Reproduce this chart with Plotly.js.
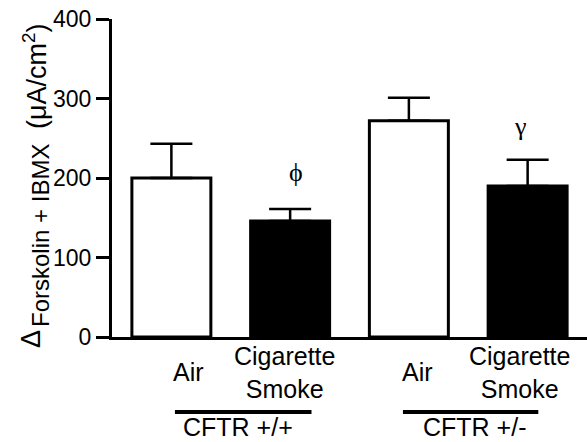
<!DOCTYPE html>
<html>
<head>
<meta charset="utf-8">
<script src="https://cdn.plot.ly/plotly-3.0.1.min.js"></script>
<style>html,body{margin:0;padding:0;background:#fff;}#chart{width:587px;height:442px;}</style>
</head>
<body>
<div id="chart"></div>
<script>
const categories = ['Air', 'Cigarette<br>Smoke', 'Air', 'Cigarette<br>Smoke'];
const groups = ['CFTR +/+', 'CFTR +/-'];
const means = [200, 146, 272, 190];
const sem = [43, 15, 29, 33];
const fills = ['white', 'black', 'white', 'black'];
const sigLabels = ['', 'ϕ', '', 'γ'];
const yTicks = [0, 100, 200, 300, 400];

const FONT = 'Liberation Sans, Arial, Helvetica, sans-serif';
const xIdx = categories.map((c, i) => i);

const trace = {
  type: 'bar',
  x: xIdx,
  y: means,
  marker: { color: fills, line: { color: 'black', width: 3 } },
  error_y: { type: 'data', array: sem, arrayminus: sem.map(() => 0), symmetric: false,
             color: 'black', thickness: 2.5, width: 21 },
  hoverinfo: 'none'
};

const annotations = [];
const labelShift = [17, -6, 9, -8];
categories.forEach((c, i) => {
  annotations.push({ x: i, y: 0, xref: 'x', yref: 'y', text: c, showarrow: false,
    xanchor: 'center', yanchor: 'middle', yshift: -35, xshift: labelShift[i],
    font: { family: FONT, size: 25, color: 'black' } });
});
const sigShift = [0, 6, 0, -7];
const sigLift = [0, 20, 0, 17];
sigLabels.forEach((s, i) => {
  if (!s) return;
  annotations.push({ x: i, y: means[i] + sem[i], xref: 'x', yref: 'y', text: s, showarrow: false,
    xanchor: 'center', yanchor: 'bottom', yshift: sigLift[i], xshift: sigShift[i],
    font: { family: 'Liberation Serif, Times New Roman, serif', size: 26, color: 'black' } });
});
const groupCenters = [0.56, 2.55];
groups.forEach((g, k) => {
  annotations.push({ x: groupCenters[k], y: 0, xref: 'x', yref: 'y', text: g, showarrow: false,
    xanchor: 'center', yanchor: 'middle', yshift: -90,
    font: { family: FONT, size: 25, color: 'black' } });
});
// y-axis title pieces
annotations.push({ x: 0, y: 0, xref: 'paper', yref: 'paper', text: 'Δ', showarrow: false,
  textangle: -90, xanchor: 'center', yanchor: 'middle', xshift: -81, yshift: -2,
  font: { family: FONT, size: 27, color: 'black' } });
annotations.push({ x: 0, y: 0.3176, xref: 'paper', yref: 'paper', text: 'Forskolin + IBMX', showarrow: false,
  textangle: -90, xanchor: 'center', yanchor: 'middle', xshift: -72,
  font: { family: FONT, size: 24, color: 'black' } });
annotations.push({ x: 0, y: 0.8208, xref: 'paper', yref: 'paper', text: '(μA/cm<sup>2</sup>)', showarrow: false,
  textangle: -90, xanchor: 'center', yanchor: 'middle', xshift: -77,
  font: { family: FONT, size: 27, color: 'black' } });

const groupSpans = [[0.03, 1.18], [1.95, 3.09]];
const shapes = groupSpans.map(s => ({
  type: 'line', xref: 'x', yref: 'paper', x0: s[0], x1: s[1], y0: -0.236, y1: -0.236,
  line: { color: 'black', width: 4 }
}));

const layout = {
  width: 587, height: 442,
  margin: { l: 112, r: 0, t: 19, b: 105 },
  paper_bgcolor: 'white', plot_bgcolor: 'white',
  showlegend: false,
  bargap: 0.335,
  font: { family: FONT, color: 'black' },
  xaxis: { range: [-0.5, 3.5], showline: true, linewidth: 3, linecolor: 'black',
           showticklabels: false, ticks: '', showgrid: false, zeroline: false, fixedrange: true },
  yaxis: { range: [0, 400], tickvals: yTicks, ticktext: yTicks.map(String),
           showline: true, linewidth: 3, linecolor: 'black',
           ticks: 'outside', ticklen: 13, tickwidth: 3, tickcolor: 'black',
           tickfont: { family: FONT, size: 23, color: 'black' },
           showgrid: false, zeroline: false, fixedrange: true },
  annotations: annotations,
  shapes: shapes
};

Plotly.newPlot('chart', [trace], layout, { staticPlot: true, displayModeBar: false });
</script>
</body>
</html>
